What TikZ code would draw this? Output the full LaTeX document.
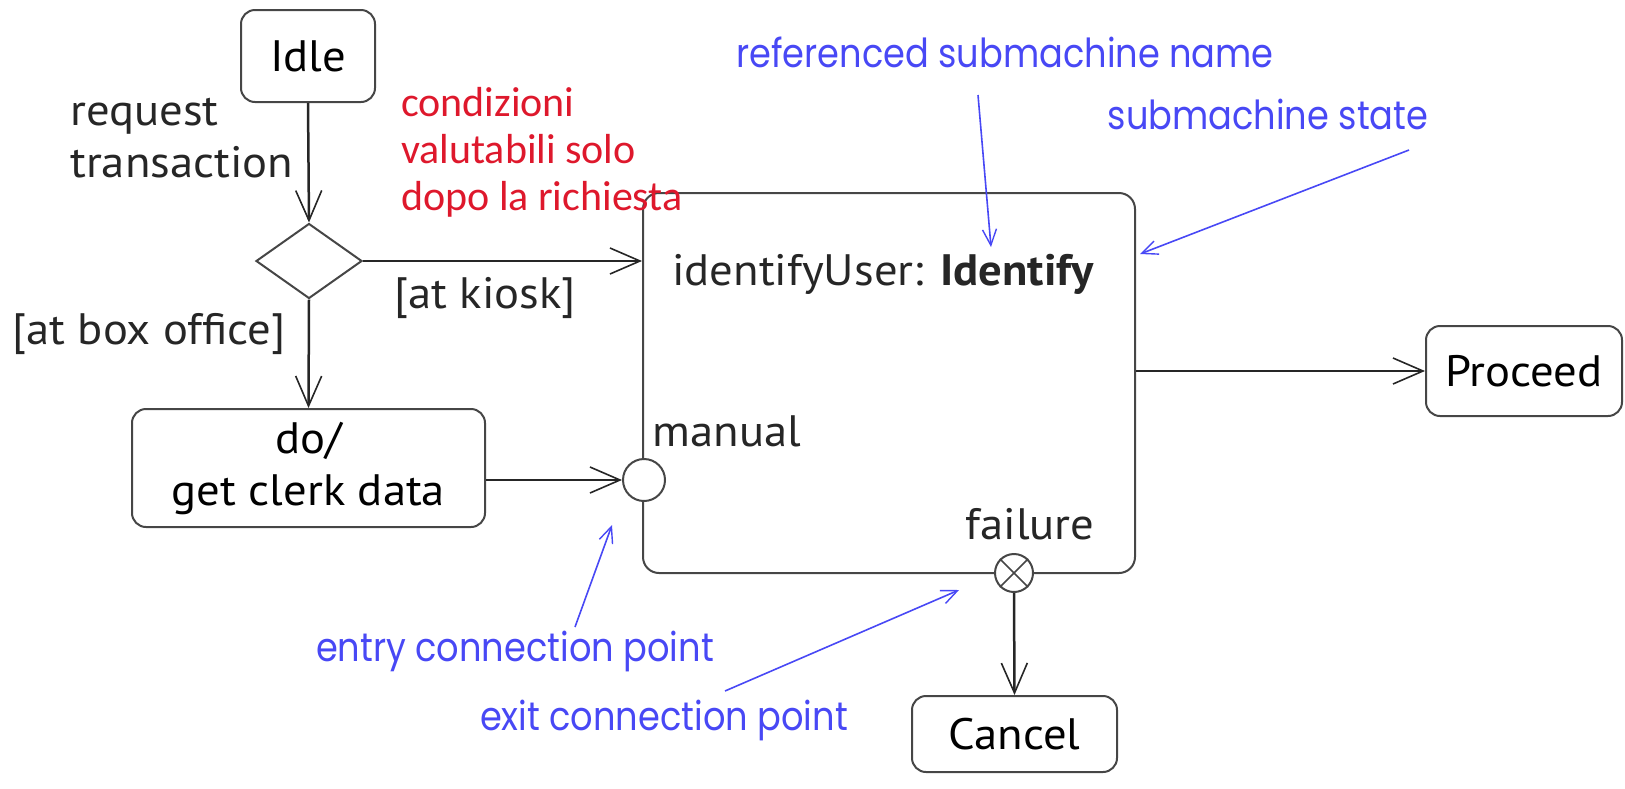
\documentclass[tikz,border=0pt]{standalone}
\usepackage{fontspec}
\setmainfont[FakeStretch=1.06]{PT Sans}
\newfontfamily\redfont{Carlito}
\newfontfamily\bluefont[FakeStretch=0.88]{Poppins}
\usetikzlibrary{arrows.meta,shapes.geometric}
\definecolor{boxgray}{RGB}{70,70,70}
\definecolor{notered}{RGB}{222,24,44}
\definecolor{noteblue}{RGB}{72,72,245}
\tikzset{
  statebox/.style={draw=boxgray, line width=2pt, rounded corners=14pt, inner sep=0pt, font=\fontsize{44}{52}\selectfont},
  lbl/.style={inner sep=0pt, font=\fontsize{44}{52}\selectfont, text=black!85},
  conn/.style={draw=black!85, line width=2.5pt, -{Straight Barb[length=30pt,width=26pt,line width=1.6pt]}},
  rednote/.style={inner sep=0pt, text=notered, align=left, font=\redfont\fontsize{42}{47}\selectfont},
  bluenote/.style={inner sep=0pt, text=noteblue, font=\bluefont\fontsize{40}{44}\selectfont},
  bluearrow/.style={draw=noteblue, line width=1.6pt, -{Straight Barb[length=16pt,width=14pt,line width=1.4pt]}},
  cpoint/.style={circle, draw=boxgray, line width=2pt, fill=white, inner sep=0pt}
}
\begin{document}
\begin{tikzpicture}[x=1pt,y=-1pt]
\useasboundingbox (0,0) rectangle (1625,788);
% submachine state
\node[draw=boxgray, line width=2pt, rounded corners=16pt, minimum width=492pt, minimum height=380pt, inner sep=0pt] (sub) at (889,383) {};
\node[lbl] (subname) at (883,274) {identifyUser: \textbf{Identify}};
% states
\node[statebox, minimum width=134pt, minimum height=92pt] (idle) at (308,56) {Idle};
\node[diamond, draw=boxgray, line width=2pt, minimum width=106pt, minimum height=75pt, inner sep=0pt] (dia) at (309,261) {};
\node[statebox, minimum width=353pt, minimum height=118pt, align=center] (dobox) at (308.5,468) {do/\\get clerk data};
\node[statebox, minimum width=196pt, minimum height=90pt] (proceed) at (1524,371) {Proceed};
\node[statebox, minimum width=205pt, minimum height=76pt] (cancel) at (1014.5,734) {Cancel};
% connection points
\node[cpoint, minimum size=42pt] (entry) at (644,480) {};
\node[cpoint, minimum size=38pt] (exit) at (1014,573) {};
\draw[boxgray, line width=1.6pt] (exit.north west) -- (exit.south east) (exit.north east) -- (exit.south west);
% connectors
\draw[conn] (idle.south) -- (dia.north);
\draw[conn] (dia.east) -- (dia.east -| sub.west);
\draw[conn] (dia.south) -- (dobox.north);
\draw[conn] (dobox.east |- entry.west) -- (entry.west);
\draw[conn] (sub.east |- proceed.west) -- (proceed.west);
\draw[conn] (exit.south) -- (cancel.north);
% labels
\node[lbl, anchor=west, align=left] (req) at (70,138) {request\\transaction};
\node[lbl] (kiosk) at (485,298) {[at kiosk]};
\node[lbl] (boxoff) at (149,334) {[at box office]};
\node[lbl] (manual) at (727,431) {manual};
\node[lbl] (failure) at (1030,524) {failure};
% red note
\node[rednote, anchor=west] (cond) at (401,152) {condizioni\\valutabili solo\\dopo la richiesta};
% blue notes
\node[bluenote] (nref) at (1005,52) {referenced submachine name};
\node[bluenote] (nstate) at (1268,114) {submachine state};
\node[bluenote] (nentry) at (515,651) {entry connection point};
\node[bluenote] (nexit) at (664,720) {exit connection point};
\coordinate (r1) at (978,95);
\coordinate (r2) at (991,247);
\coordinate (s1) at (1409,150);
\coordinate (s2) at (1140,254);
\coordinate (e1) at (575,627);
\coordinate (e2) at (612,525);
\coordinate (x1) at (725,691);
\coordinate (x2) at (959,590);
\draw[bluearrow] (r1) -- (r2);
\draw[bluearrow] (s1) -- (s2);
\draw[bluearrow] (e1) -- (e2);
\draw[bluearrow] (x1) -- (x2);
\end{tikzpicture}
\end{document}
